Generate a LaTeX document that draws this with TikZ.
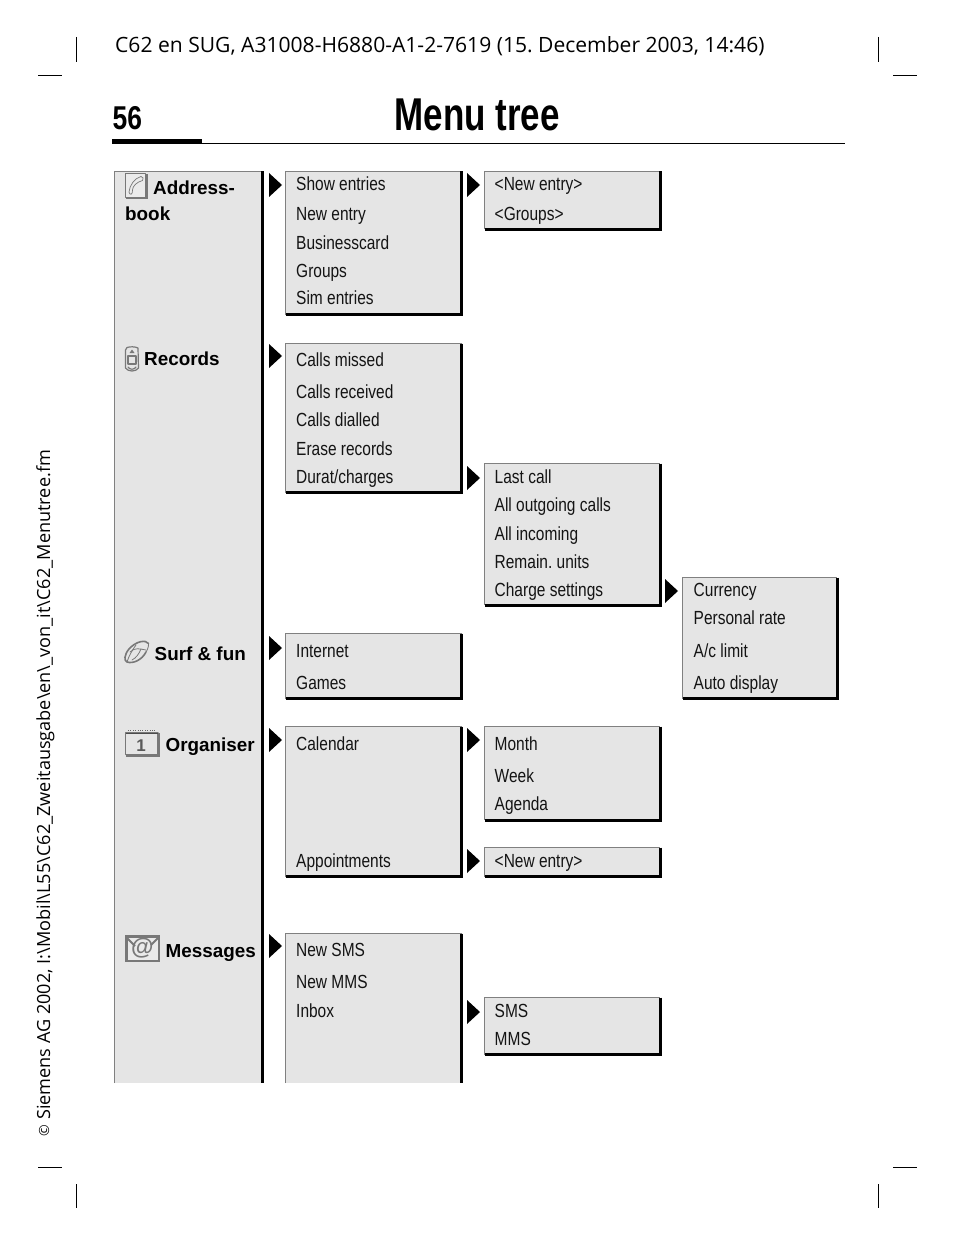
\documentclass[tikz,border=0pt]{standalone}
\usepackage{fontspec}
\setmainfont{Liberation Sans}
\newfontfamily\narrowf[FakeStretch=0.815]{Liberation Sans}
\newfontfamily\headf[FakeStretch=0.76]{Liberation Sans}
\newfontfamily\pagef[FakeStretch=0.8]{Liberation Sans}
\newfontfamily\runf{Open Sans}
\usetikzlibrary{calc}
\definecolor{panel}{gray}{0.898}
\definecolor{edge}{gray}{0.5}
\definecolor{icon}{gray}{0.47}
\tikzset{
  x=1pt,y=-1pt,
  item/.style={anchor=base west,inner sep=0pt,font=\narrowf\fontsize{19}{19}\selectfont,text=black!92},
  head/.style={anchor=base west,inner sep=0pt,font=\bfseries\fontsize{18.85}{19}\selectfont},
  crop/.style={line width=1pt,black},
  tip/.style={fill=black,draw=none},
  iconline/.style={draw=icon,line width=1pt,line cap=round,line join=round},
}
% panel: x0,y0,x1,y1 ; thin grey top/left, heavy black right/bottom
\newcommand{\panelbox}[4]{%
  \fill[panel] (#1,#2) rectangle (#3,#4);
  \draw[edge,line width=1pt] (#1,#4) -- (#1,#2) -- (#3,#2);
  \draw[black,line width=3pt] (#3,#2) -- (#3,#4) -- (#1,#4);
}
% open panel, no bottom edge
\newcommand{\openbox}[4]{%
  \fill[panel] (#1,#2) rectangle (#3,#4);
  \draw[edge,line width=1pt] (#1,#4) -- (#1,#2) -- (#3,#2);
  \draw[black,line width=3pt] (#3,#2) -- (#3,#4);
}
\newcommand{\tipat}[2]{\fill[tip] (#1,#2-12) -- (#1+13,#2) -- (#1,#2+12) -- cycle;}
\begin{document}
\frenchspacing
\begin{tikzpicture}
\useasboundingbox (0,0) rectangle (954,1246);
\fill[white] (0,0) rectangle (954,1246);
% crop marks
\draw[crop] (76,37)--(76,62);
\draw[crop] (878,37)--(878,62);
\draw[crop] (38,76)--(62,76);
\draw[crop] (893,76)--(917,76);
\draw[crop] (38,1167)--(62,1167);
\draw[crop] (893,1167)--(917,1167);
\draw[crop] (76,1184)--(76,1208);
\draw[crop] (878,1184)--(878,1208);
% header
\node[anchor=base west,inner sep=0pt,font=\runf\fontsize{21.07}{21}\selectfont] (runhead) at (115,53) {C62 en SUG, A31008-H6880-A1-2-7619 (15. December 2003, 14:46)};
\node[anchor=base west,inner sep=0pt,font=\pagef\bfseries\fontsize{33}{33}\selectfont] (pageno) at (112.5,130) {56};
\node[anchor=base,inner sep=0pt,font=\headf\bfseries\fontsize{46}{46}\selectfont] (title) at (477,131) {Menu tree};
\draw[black,line width=1pt] (112,143.5)--(845,143.5);
\fill[black] (112,139) rectangle (202,144);
% side text
\node[anchor=base west,inner sep=0pt,rotate=90,font=\runf\fontsize{18.1}{19}\selectfont] (sidetext) at (50,1120) {Siemens AG 2002, I:\textbackslash Mobil\textbackslash L55\textbackslash C62\_Zweitausgabe\textbackslash en\textbackslash\_von\_it\textbackslash C62\_Menutree.fm};
\node[anchor=base west,inner sep=0pt,rotate=90,font=\runf\fontsize{14}{14}\selectfont] (copyr) at (49,1137) {©};
% column 0
\openbox{114.5}{171.5}{262.5}{1083}
% column 1
\panelbox{285.5}{171.5}{461.7}{314.5}
\panelbox{285.5}{343.5}{461.7}{492.5}
\panelbox{285.5}{633.5}{461.7}{698.5}
\panelbox{285.5}{726.5}{461.7}{876.5}
\openbox{285.5}{933.5}{461.7}{1083}
% column 2
\panelbox{484.5}{171.5}{660}{229.5}
\panelbox{484.5}{463.5}{660}{605}
\panelbox{484.5}{726.5}{660}{820}
\panelbox{484.5}{847.5}{660}{876.5}
\panelbox{484.5}{997.5}{660}{1054.5}
% column 3
\panelbox{682.5}{577.5}{837}{698.5}
% arrows
\tipat{269}{185}\tipat{269}{356}\tipat{269}{648}\tipat{269}{740}\tipat{269}{946}
\tipat{467}{185}\tipat{467}{478}\tipat{467}{740}\tipat{467}{861}\tipat{467}{1012}
\tipat{665}{591}
% headings
\node[head] (h1) at (153,195) {Address-};
\node[head] (h1b) at (125,221) {book};
\node[head] (h2) at (144,365) {Records};
\node[head] (h3) at (154.5,660) {Surf \& fun};
\node[head] (h4) at (165.5,751) {Organiser};
\node[head] (h5) at (165.5,957) {Messages};
% column 1 items
\node[item] (a1) at (296,191) {Show entries};
\node[item] (a2) at (296,221) {New entry};
\node[item] (a3) at (296,250) {Businesscard};
\node[item] (a4) at (296,278) {Groups};
\node[item] (a5) at (296,305) {Sim entries};
\node[item] (b1) at (296,366) {Calls missed};
\node[item] (b2) at (296,398) {Calls received};
\node[item] (b3) at (296,426) {Calls dialled};
\node[item] (b4) at (296,455) {Erase records};
\node[item] (b5) at (296,483) {Durat/charges};
\node[item] (c1) at (296,657) {Internet};
\node[item] (c2) at (296,689) {Games};
\node[item] (d1) at (296,750) {Calendar};
\node[item] (d2) at (296,867) {Appointments};
\node[item] (e1) at (296,956) {New SMS};
\node[item] (e2) at (296,988) {New MMS};
\node[item] (e3) at (296,1017) {Inbox};
% column 2 items
\node[item] (f1) at (494.5,190.5) {<New entry>};
\node[item] (f2) at (494.5,220.5) {<Groups>};
\node[item] (g1) at (494.5,483) {Last call};
\node[item] (g2) at (494.5,511) {All outgoing calls};
\node[item] (g3) at (494.5,540) {All incoming};
\node[item] (g4) at (494.5,568) {Remain. units};
\node[item] (g5) at (494.5,596) {Charge settings};
\node[item] (k1) at (494.5,750) {Month};
\node[item] (k2) at (494.5,782) {Week};
\node[item] (k3) at (494.5,810) {Agenda};
\node[item] (l1) at (494.5,867) {<New entry>};
\node[item] (m1) at (494.5,1017) {SMS};
\node[item] (m2) at (494.5,1045) {MMS};
% column 3 items
\node[item] (n1) at (693.5,596) {Currency};
\node[item] (n2) at (693.5,624) {Personal rate};
\node[item] (n3) at (693.5,657) {A/c limit};
\node[item] (n4) at (693.5,689) {Auto display};
% icon: address book
\draw[iconline,line width=0.8pt,fill=panel!75!white] (125.5,173.5) rectangle (145.5,197);
\draw[icon,line width=2pt] (126,198)--(146.5,198)--(146.5,174);
\draw[iconline,line width=0.7pt,fill=panel!75!white] (141,176.5) .. controls (135,178) and (129.5,185) .. (129,192) .. controls (129.5,195.5) and (133,195) .. (132.5,190) .. controls (132.5,186) and (137,182) .. (142.5,180.5) .. controls (144,179) and (143,176.5) .. (141,176.5);
% icon: records (phone)
\draw[iconline,line width=1.2pt] (127,347.5) .. controls (130,346.5) and (135,346.5) .. (138,348) -- (138.5,368) .. controls (136,372) and (128,372) .. (125.5,368) -- (125.5,350) -- cycle;
\draw[iconline,line width=1.3pt] (128,356) rectangle (136,364);
\fill[icon] (129.5,353) -- (132,349.5) -- (134.5,353) -- cycle;
\draw[iconline,line width=1.2pt] (128,367) .. controls (130,370) and (134,370) .. (136,367);
% icon: surf globe
\draw[iconline,line width=1.6pt] (148.5,643.5) .. controls (146,639.5) and (136,641) .. (129,649) .. controls (124,655) and (124,661) .. (127,662) .. controls (133,664) and (142,660) .. (146,652);
\draw[iconline,line width=0.8pt] (148.5,643.5) .. controls (149,648) and (146,652) .. (146,652);
\draw[iconline,line width=0.8pt] (136,645) .. controls (131,652) and (129,656) .. (127,662);
\draw[iconline,line width=0.8pt] (130,652) .. controls (135,647) and (140,649) .. (146,650);
\draw[iconline,line width=0.8pt] (141,649) .. controls (139,654) and (136,658) .. (132,660);
% icon: organiser calendar
\draw[iconline,line width=1.3pt] (125.5,733) rectangle (158,754.5);
\draw[icon,line width=2pt] (125.5,755.5)--(159,755.5)--(159,733);
\draw[black!60,line width=1.6pt,dash pattern=on 1pt off 1.4pt] (128,730.5)--(156,730.5);
\draw[black!70,line width=1pt] (126,733) -- (158,733);
\node[anchor=base,inner sep=0pt,text=black!65,font=\bfseries\fontsize{17}{17}\selectfont] (calone) at (141,751.5) {1};
% icon: messages envelope
\draw[icon,line width=2.6pt,fill=panel!80!white] (126.3,936.3) rectangle (158.8,961);
\draw[icon,line width=2pt] (127,938) -- (135,946);
\draw[icon,line width=2pt] (158,938) -- (151,945);
\node[anchor=center,inner sep=0pt,text=icon,font=\bfseries\fontsize{23}{23}\selectfont] (atsign) at (142.3,948.5) {@};
\end{tikzpicture}
\end{document}
